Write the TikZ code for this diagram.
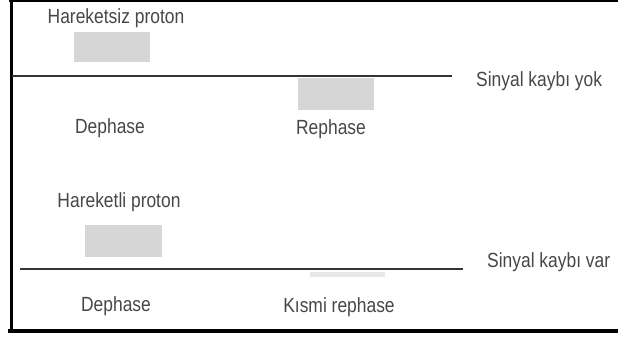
\documentclass[tikz,border=0pt]{standalone}
\usepackage{fontspec}
\setmainfont{Liberation Sans}[FakeStretch=0.85]
\begin{document}
\begin{tikzpicture}[x=1pt,y=-1pt,
  lbl/.style={font=\fontsize{20.5}{24}\selectfont, text=black!72, inner sep=0pt},
  spinbox/.style={fill=black!16, draw=none},
  faint/.style={fill=black!9, draw=none},
  base/.style={draw=black!80, line width=2pt},
  frame/.style={draw=black, line cap=rect}]
\useasboundingbox (0,0) rectangle (618,337);
% open frame: top, left and bottom sides
\draw[frame, line width=2pt] (10,1) -- (618,1);
\draw[frame, line width=3pt] (11.5,0) -- (11.5,331);
\draw[frame, line width=4pt] (10,331) -- (618,331);

% stationary proton
\node[lbl] (t1) at (116,18) {Hareketsiz proton};
\path[spinbox] (74,32) rectangle (150,62);
\coordinate (l1a) at (12,76);
\coordinate (l1b) at (452,76);
\draw[base] (l1a) -- (l1b);
\path[spinbox] (298,78) rectangle (374,110);
\node[lbl] (d1) at (110,128) {Dephase};
\node[lbl] (r1) at (331,129) {Rephase};
\node[lbl, anchor=west] (s1) at (476,81) {Sinyal kayb\i{} yok};

% moving proton
\node[lbl] (t2) at (119,202) {Hareketli proton};
\path[spinbox] (85,225) rectangle (162,257);
\coordinate (l2a) at (20,269);
\coordinate (l2b) at (463,269);
\draw[base] (l2a) -- (l2b);
\path[faint] (310,272) rectangle (385,277);
\node[lbl] (d2) at (116,306) {Dephase};
\node[lbl] (r2) at (339,307) {K\i{}smi rephase};
\node[lbl, anchor=west] (s2) at (487,262) {Sinyal kayb\i{} var};
\end{tikzpicture}
\end{document}
